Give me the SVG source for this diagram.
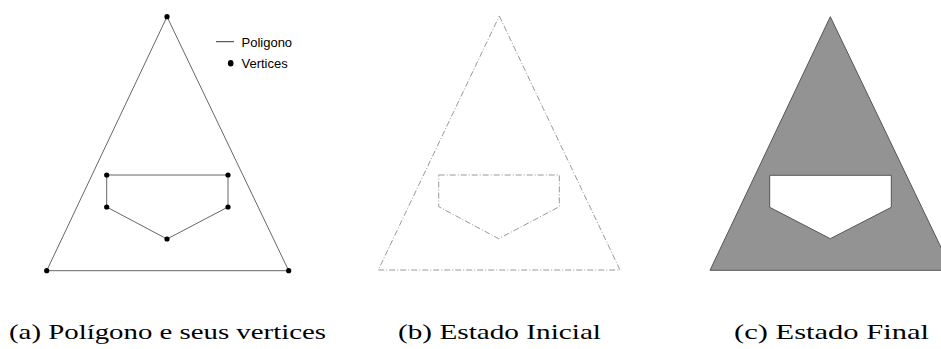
<svg xmlns="http://www.w3.org/2000/svg" width="941" height="349" viewBox="0 0 941 349">
<style>
.edge{fill:none;stroke:#666;stroke-width:1}
.dash{fill:none;stroke:#999;stroke-width:1;stroke-dasharray:6 2 1 2}
.solid{fill:#939393;stroke:#555;stroke-width:1;fill-rule:evenodd}
.v{fill:#000}
.leg{font-family:"Liberation Sans",Arial,sans-serif;font-size:13px;fill:#000}
.cap{font-family:"Liberation Serif","Times New Roman",serif;font-size:22px;fill:#000}
</style>
<g id="panel-a">
  <g id="connectors-a">
    <polygon class="edge" points="167,16.7 288.7,270.7 46.7,270.7"/>
    <polygon class="edge" points="106.7,175 228,175 228,207 167,239 106.7,207"/>
  </g>
  <g id="vertices-a">
    <circle class="v" cx="167" cy="16.7" r="2.6"/>
    <circle class="v" cx="46.7" cy="270.7" r="2.6"/>
    <circle class="v" cx="288.7" cy="270.7" r="2.6"/>
    <circle class="v" cx="106.7" cy="175" r="2.6"/>
    <circle class="v" cx="228" cy="175" r="2.6"/>
    <circle class="v" cx="228" cy="207" r="2.6"/>
    <circle class="v" cx="167" cy="239" r="2.6"/>
    <circle class="v" cx="106.7" cy="207" r="2.6"/>
  </g>
  <g id="legend">
    <line x1="216" y1="41.7" x2="234" y2="41.7" stroke="#000" stroke-width="0.8"/>
    <text class="leg" x="241.5" y="46.5">Poligono</text>
    <ellipse class="v" cx="230.7" cy="63.3" rx="2.8" ry="3.3"/>
    <text class="leg" x="241.5" y="68.3">Vertices</text>
  </g>
</g>
<g id="panel-b">
  <polygon class="dash" points="499.3,16 620,270 378.3,270"/>
  <polygon class="dash" points="438.7,175 559.3,175 559.3,206.7 498.7,238.7 438.7,206.7"/>
</g>
<g id="panel-c">
  <path class="solid" d="M830.3,16.7 L952,270.3 L710,270.3 Z M769.7,175.3 L891.3,175.3 L891.3,207.3 L830.3,238.7 L769.7,207.3 Z"/>
</g>
<g id="captions">
  <text class="cap" x="9" y="339" textLength="317" lengthAdjust="spacingAndGlyphs">(a) Polígono e seus vertices</text>
  <text class="cap" x="398" y="339" textLength="203" lengthAdjust="spacingAndGlyphs">(b) Estado Inicial</text>
  <text class="cap" x="734" y="339" textLength="195" lengthAdjust="spacingAndGlyphs">(c) Estado Final</text>
</g>
</svg>
